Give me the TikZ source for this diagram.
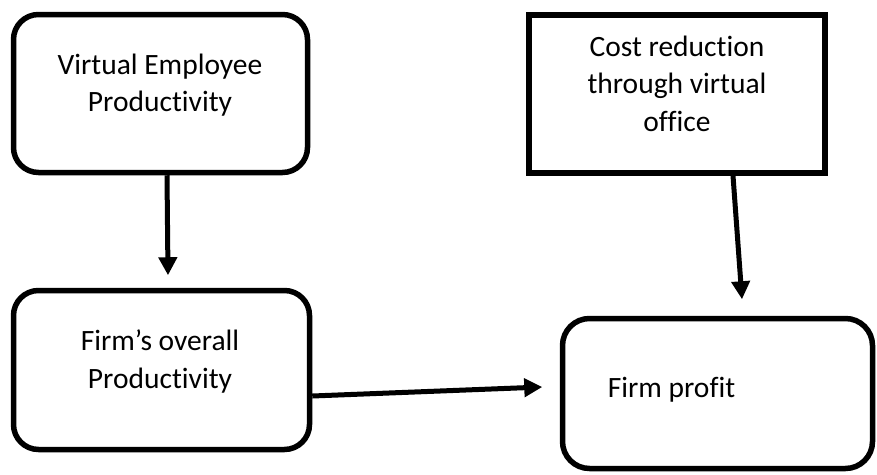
\documentclass[tikz,border=0pt]{standalone}
\usepackage{fontspec}
\setmainfont{Carlito}[Ligatures={NoCommon}]
\usetikzlibrary{arrows.meta}
\begin{document}
\begin{tikzpicture}[x=1pt,y=-1pt,
  boxr/.style={draw=black,line width=5.5pt,rounded corners=25pt,fill=white,inner sep=0pt},
  boxs/.style={draw=black,line width=5.5pt,fill=white,inner sep=0pt},
  txt/.style={font=\fontsize{29.5}{37.5}\selectfont,align=center,inner sep=0pt},
  arr/.style={line width=5pt,-{Triangle[length=18pt,width=18pt]}}]
\useasboundingbox (0,0) rectangle (877,474);
\node[boxr,minimum width=294pt,minimum height=158pt] (b1) at (160.5,93.5) {};
\node[boxs,minimum width=296pt,minimum height=158pt] (b2) at (677,94) {};
\node[boxr,minimum width=296pt,minimum height=159pt] (b3) at (161.5,370) {};
\node[boxr,rounded corners=27pt,minimum width=310pt,minimum height=150pt] (b4) at (717.5,393.5) {};
\node[txt] (t1) at (160,85) {Virtual Employee\\Productivity};
\node[txt] (t2) at (677,83.5) {Cost reduction\\through virtual\\office};
\node[txt] (t3) at (160,361.5) {Firm’s overall\\Productivity};
\node[txt,anchor=base] (t4) at (671.5,397) {Firm profit};
\draw[arr] ([xshift=6.5pt]b1.south) -- ([xshift=6.5pt,yshift=12.5pt]b3.north);
\draw[arr] ([xshift=56pt]b2.south) -- ([xshift=24.5pt,yshift=16.5pt]b4.north);
\draw[arr] ([yshift=-26pt]b3.east) -- ([xshift=-17.5pt,yshift=6.5pt]b4.west);
\end{tikzpicture}
\end{document}
